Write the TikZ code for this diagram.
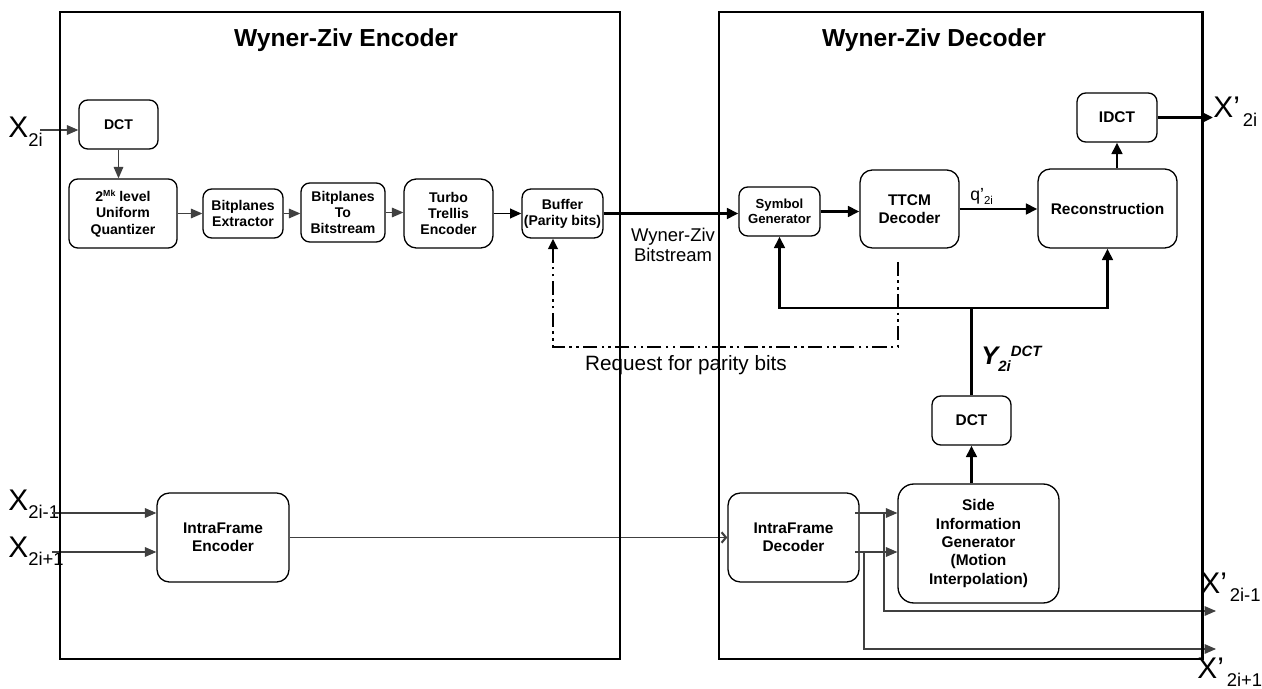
\documentclass[tikz,border=0pt]{standalone}
\usepackage{fontspec}
\setmainfont{Liberation Sans}
\usetikzlibrary{arrows.meta}

\newcommand{\xin}[1]{{\fontsize{17}{17}\selectfont X}\raisebox{-5pt}{\fontsize{10.5}{10.5}\selectfont #1}}
\newcommand{\xout}[1]{{\fontsize{17}{17}\selectfont X’}\,\raisebox{-5pt}{\fontsize{10.5}{10.5}\selectfont #1}}

\begin{document}
\begin{tikzpicture}[x=0.02cm,y=-0.02cm,
    frame/.style={line width=1.7pt},
    blk/.style={draw,line width=0.75pt,rounded corners=5pt,align=center,inner sep=1pt,
      font=\fontsize{8}{9.2}\selectfont\bfseries},
    bigblk/.style={blk,rounded corners=7pt,font=\fontsize{8.8}{10.4}\selectfont\bfseries},
    lab/.style={inner sep=0pt,anchor=base west},
    thinarr/.style={-{Triangle[length=6.5pt,width=5.5pt]},line width=0.6pt,black!75},
    chevarr/.style={-{Straight Barb[length=2.5pt,width=6pt,line width=1.2pt]},line width=0.6pt,black!75},
    medarr/.style={-{Triangle[length=6.5pt,width=5.5pt]},line width=1.1pt},
    thickarr/.style={-{Triangle[length=6.5pt,width=6pt]},line width=1.6pt},
    request/.style={line width=1.4pt,dash pattern=on 8pt off 2.5pt on 1.4pt off 2.5pt on 1.4pt off 2.5pt}]
    \useasboundingbox (0,0) rectangle (1262,689);

    % titles
    \node[font=\fontsize{14}{14}\selectfont\bfseries] (enctitle) at (346,40) {Wyner-Ziv Encoder};
    \node[font=\fontsize{14}{14}\selectfont\bfseries] (dectitle) at (934,40) {Wyner-Ziv Decoder};

    % encoder blocks
    \node[blk,minimum width=1.58cm,minimum height=0.98cm] (dctenc) at (118.5,124.5) {DCT};
    \node[blk,minimum width=2.16cm,minimum height=1.38cm] (quant) at (123,213.5)
        {2\raisebox{3pt}{\fontsize{5}{5}\selectfont Mk} level\\Uniform\\Quantizer};
    \node[blk,minimum width=1.6cm,minimum height=0.98cm] (bpext) at (243,213.5) {Bitplanes\\Extractor};
    \node[blk,minimum width=1.68cm,minimum height=1.18cm] (bpbits) at (343,212.5) {Bitplanes\\To\\Bitstream};
    \node[blk,minimum width=1.78cm,minimum height=1.38cm,rounded corners=7pt] (turbo) at (448.5,213.5) {Turbo\\Trellis\\Encoder};
    \node[blk,minimum width=1.58cm,minimum height=0.98cm] (buffer) at (562.5,213.5) {Buffer\\(Parity bits)};
    \node[bigblk,minimum width=2.64cm,minimum height=1.78cm] (intraenc) at (223,537.5) {IntraFrame\\Encoder};

    % decoder blocks
    \node[blk,minimum width=1.62cm,minimum height=0.98cm,font=\fontsize{7.5}{8.8}\selectfont\bfseries] (symgen) at (779.5,211.5) {Symbol\\Generator};
    \node[bigblk,minimum width=1.98cm,minimum height=1.56cm] (ttcm) at (909.5,209) {TTCM\\Decoder};
    \node[bigblk,minimum width=2.78cm,minimum height=1.58cm] (recon) at (1107.5,208.5) {Reconstruction};
    \node[bigblk,minimum width=1.6cm,minimum height=0.98cm,rounded corners=5pt] (idct) at (1117,117.5) {IDCT};
    \node[bigblk,minimum width=1.58cm,minimum height=0.98cm,rounded corners=5pt] (dctdec) at (971.5,420.5) {DCT};
    \node[bigblk,minimum width=3.22cm,minimum height=2.38cm,rounded corners=9pt] (sideinfo) at (978.5,543.5)
        {Side\\Information\\Generator\\(Motion\\Interpolation)};
    \node[bigblk,minimum width=2.62cm,minimum height=1.78cm] (intradec) at (793.5,537.5) {IntraFrame\\Decoder};

    % inputs and outputs
    \node[lab] (x2i) at (8,138) {\xin{2i}};
    \node[lab] (x2im) at (8,510) {\xin{2i-1}};
    \node[lab] (x2ip) at (8,557) {\xin{2i+1}};
    \node[lab] (xo2i) at (1213,118) {\xout{2i}};
    \node[lab] (xo2im) at (1200,593) {\xout{2i-1}};
    \node[lab] (xo2ip) at (1197,678) {\xout{2i+1}};

    % other labels
    \node[align=center,font=\fontsize{10.5}{11.5}\selectfont] (wzbits) at (673,245) {Wyner-Ziv\\Bitstream};
    \node (reqtxt) at (686,365) {\fontsize{11.8}{12}\selectfont Request for parity bits};
    \node[lab] (qlab) at (970,201) {\fontsize{10}{10}\selectfont q’\raisebox{-2pt}{\fontsize{6.5}{6.5}\selectfont 2i}};
    \node[lab,font=\bfseries\itshape] (ylab) at (981,365)
        {{\fontsize{14.5}{14.5}\selectfont Y}\raisebox{-3.5pt}{\fontsize{8.5}{8.5}\selectfont 2i}\raisebox{5pt}{\fontsize{8.5}{8.5}\selectfont DCT}};

    % free ends
    \coordinate (x2iin) at (40,130);
    \coordinate (x2imin) at (52,513);
    \coordinate (x2ipin) at (52,552);
    \coordinate (ida) at (855,513);
    \coordinate (idb) at (855,552);
    \coordinate (tapa) at (884,513);
    \coordinate (tapb) at (864,552);
    \coordinate (outa) at (1216,611);
    \coordinate (outb) at (1216,649);
    \coordinate (bus) at (971.5,308);
    \coordinate (reqtop) at (898,262);
    \coordinate (reqturn) at (898,347);

    % encoder chain
    \draw[thinarr] (x2iin) -- (x2iin -| dctenc.west);
    \draw[thinarr] (dctenc.south) -- (dctenc.south |- quant.north);
    \draw[thinarr] (quant.east) -- (quant.east -| bpext.west);
    \draw[thinarr] (bpext.east) -- (bpext.east -| bpbits.west);
    \draw[thinarr] (bpbits.east) -- (bpbits.east -| turbo.west);
    \draw[medarr] (turbo.east) -- (turbo.east -| buffer.west);
    \draw[thickarr] (buffer.east) -- (buffer.east -| symgen.west);

    % decoder chain
    \draw[thickarr] (symgen.east) -- (symgen.east -| ttcm.west);
    \draw[thickarr] (ttcm.east) -- (ttcm.east -| recon.west);
    \draw[thickarr] (idct.south |- recon.north) -- (idct.south);
    \draw[thickarr] (idct.east) -- (idct.east -| xo2i.west);

    % side information bus
    \draw[thickarr] (dctdec.south |- sideinfo.north) -- (dctdec.south);
    \draw[line width=1.6pt] (dctdec.north) -- (bus);
    \draw[thickarr] (bus) -| (symgen.south);
    \draw[thickarr] (bus) -| (recon.south);

    % feedback channel
    \draw[request,-{Triangle[length=6pt,width=5.5pt]}] (reqtop) -- (reqturn) -| ([xshift=-0.19cm]buffer.south);

    % key frames
    \draw[thinarr] (x2imin) -- (x2imin -| intraenc.west);
    \draw[thinarr] (x2ipin) -- (x2ipin -| intraenc.west);
    \draw[chevarr] (intraenc) -- (intradec);
    \draw[thinarr] (ida) -- (ida -| sideinfo.west);
    \draw[thinarr] (idb) -- (idb -| sideinfo.west);
    \draw[thinarr] (tapa) |- (outa);
    \draw[thinarr] (tapb) |- (outb);

    % frames
    \draw[frame] (60,12) rectangle (620,659);
    \draw[frame] (719,12) rectangle (1202,659);
\end{tikzpicture}
\end{document}
